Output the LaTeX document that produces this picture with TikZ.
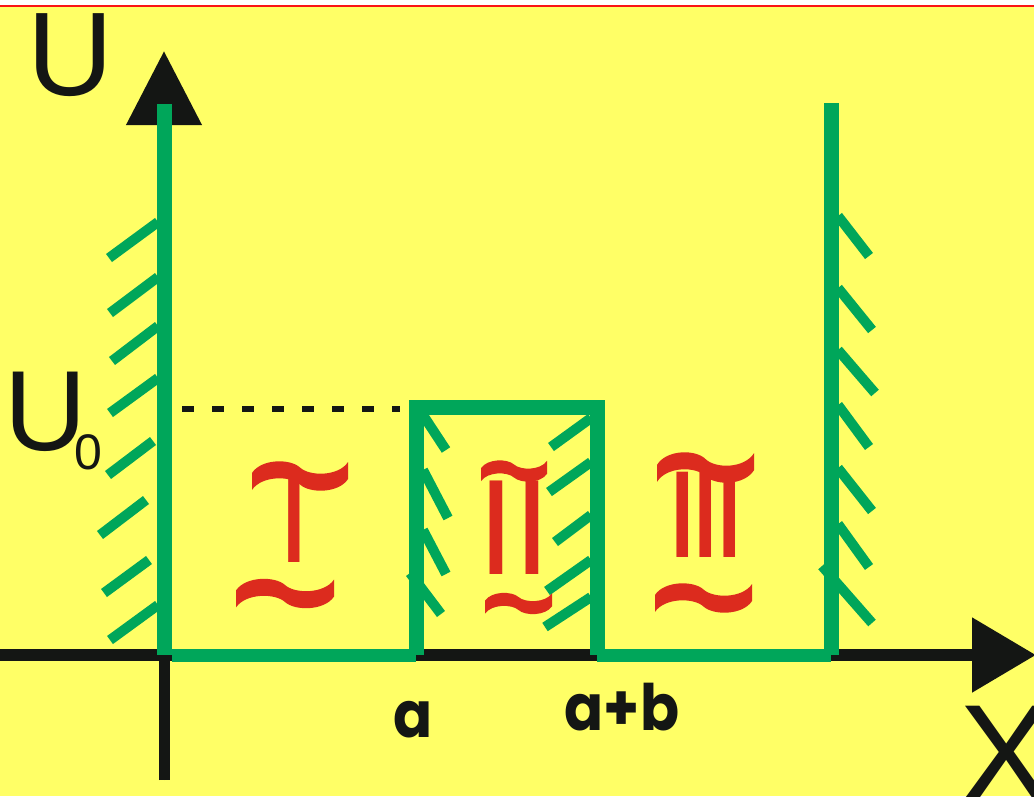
\documentclass[tikz,border=0pt]{standalone}
\usepackage{fontspec}
\usepackage{graphicx}
\usepackage{tikz}
\usetikzlibrary{arrows.meta}
\newfontfamily\axisfont{Liberation Sans}
\newfontfamily\tickfont{Poppins}[FakeStretch=0.9]
\definecolor{bgyellow}{RGB}{255,255,102}
\definecolor{rimred}{RGB}{250,20,20}
\definecolor{wellgreen}{RGB}{0,166,90}
\definecolor{numred}{RGB}{220,43,30}
\definecolor{axisblack}{RGB}{20,22,20}
\tikzset{well/.style={draw=wellgreen,line width=15pt},
  axis/.style={draw=axisblack,fill=axisblack,line width=11pt},
  hatch/.style={draw=wellgreen,line width=10pt},
  guide/.style={draw=axisblack,line width=6pt,dash pattern=on 12pt off 18pt},
  numeral/.style={fill=numred},
  labeltext/.style={inner sep=0pt,text=axisblack}}
% wavy stroke: left x, middle y, width, swing, thickness
\newcommand\tildestroke[5]{%
  \begin{scope}[shift={(#1,#2)}]
  \fill[numeral] (0,{0.45*#4-#5/2}) .. controls ({0.1*#3},{-0.75*#4-#5/2}) and ({0.4*#3},{-0.75*#4-#5/2}) .. ({0.5*#3},{-#5/2})
    .. controls ({0.6*#3},{0.75*#4-#5/2}) and ({0.9*#3},{0.75*#4-#5/2}) .. (#3,{-0.45*#4-#5/2})
    -- (#3,{-0.45*#4+#5/2})
    .. controls ({0.9*#3},{0.75*#4+#5/2}) and ({0.6*#3},{0.75*#4+#5/2}) .. ({0.5*#3},{#5/2})
    .. controls ({0.4*#3},{-0.75*#4+#5/2}) and ({0.1*#3},{-0.75*#4+#5/2}) .. (0,{0.45*#4+#5/2}) -- cycle;
  \end{scope}}

\begin{document}
\begin{tikzpicture}[x=1pt,y=-1pt]
\useasboundingbox (0,0) rectangle (1034,796);
\clip (0,0) rectangle (1034,796);
\fill[white] (0,0) rectangle (1034,7);
\fill[bgyellow] (0,7) rectangle (1034,796);
\draw[rimred,line width=2pt] (0,6) -- (1034,6);
% axes
\coordinate (O) at (164,655);
\coordinate (A) at (416,655);
\coordinate (B) at (597,655);
\coordinate (W) at (831,655);
\draw[axis,line width=12pt,-{Triangle[length=64pt,width=72pt]}] (0,655) -- (1036,655);
\draw[axis,-{Triangle[length=74pt,width=73pt]}] (164,780) -- (164,51);
\draw[guide] (182,409) -- (400,409);
% well
\draw[well] (164,104) -- (O);
\draw[well,line width=13pt] (172,655) -- (A);
\draw[well] (A) -- (416,407) -- (597,407) -- (B);
\draw[well,line width=13pt] (B) -- (W);
\draw[well] (W) -- (831,103);
% hatching
\foreach \xa/\ya/\xb/\yb in {158/222/109/258, 158/277/110/313, 158/326/112/361, 158/378/110/413,
    153/441/108/475, 146/500/100/535, 149/560/104/593, 158/605/110/640}
  \draw[hatch] (\xa,\ya) -- (\xb,\yb);
\foreach \xa/\ya/\xb/\yb in {838/216/869/256, 838/288/872/330, 838/350/875/393, 838/405/869/447,
    838/468/872/511, 838/524/869/567, 822/566/872/623}
  \draw[hatch] (\xa,\ya) -- (\xb,\yb);
\foreach \xa/\ya/\xb/\yb in {423/415/446/450, 423/470/448/518, 423/530/446/574, 410/573/441/614}
  \draw[hatch] (\xa,\ya) -- (\xb,\yb);
\foreach \xa/\ya/\xb/\yb in {591/418/551/447, 591/462/549/492, 591/515/555/542, 591/560/547/591, 591/597/545/627}
  \draw[hatch] (\xa,\ya) -- (\xb,\yb);
% regions
\node[inner sep=0pt,text=numred,anchor=base,font={\axisfont\fontsize{121pt}{121pt}\selectfont}] (regI) at (294,562) {I};
\node[inner sep=0pt,text=numred,anchor=base,font={\axisfont\fontsize{136pt}{136pt}\selectfont}] (regII) at (514.5,574) {I\kern-1.8pt I};
\node[inner sep=0pt,text=numred,anchor=base,font={\axisfont\fontsize{124pt}{124pt}\selectfont}] (regIII) at (706,557) {I\kern-11pt I\kern-11pt I};
\tildestroke{252}{476}{96}{12}{17}
\tildestroke{236}{593.5}{98}{12}{17}
\tildestroke{481}{471}{66}{8}{13}
\tildestroke{485}{603.5}{67}{8}{13}
\tildestroke{657}{467.5}{97}{13}{17}
\tildestroke{655}{598}{97}{12}{17}
% labels
\node[labeltext,anchor=base,font={\axisfont\fontsize{119pt}{119pt}\selectfont}] (ylabel) at (70.5,95) {U};
\node[labeltext,anchor=base west,font={\axisfont\fontsize{114pt}{114pt}\selectfont}] (ulevel) at (4,450) {U\kern-12pt\raisebox{-19pt}{\fontsize{50pt}{50pt}\selectfont 0}};
\node[labeltext,anchor=base west,font={\axisfont\fontsize{140pt}{140pt}\selectfont}] (xlabel) at (959,802) {X};
\node[labeltext,anchor=base,font={\tickfont\bfseries\fontsize{64pt}{64pt}\selectfont}] (ta) at (413.5,737) {a};
\node[labeltext,anchor=base,font={\tickfont\bfseries\fontsize{64pt}{64pt}\selectfont}] (tab) at (622,730) {a+b};
\end{tikzpicture}
\end{document}
